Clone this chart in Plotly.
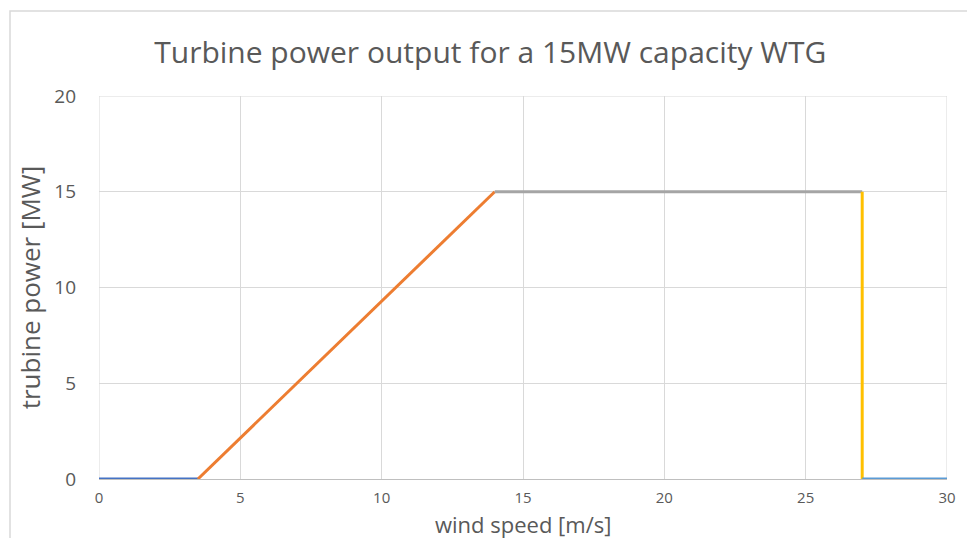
import plotly.graph_objects as go

# Data segments of the power curve
seg_names = ["below cut-in", "ramp", "rated", "cut-out", "above cut-out"]
seg_x = [[0, 3.5], [3.5, 14], [14, 27], [27, 27], [27, 30]]
seg_y = [[0, 0], [0, 15], [15, 15], [15, 0], [0, 0]]
seg_colors = ["#4472C4", "#ED7D31", "#A5A5A5", "#FFC000", "#5B9BD5"]

x_ticks = [0, 5, 10, 15, 20, 25, 30]
y_ticks = [0, 5, 10, 15, 20]

fig = go.Figure()
for name, xs, ys, c in zip(seg_names, seg_x, seg_y, seg_colors):
    fig.add_trace(go.Scatter(x=xs, y=ys, mode="lines", name=name,
                             line=dict(color=c, width=3), showlegend=False))

font_family = "Open Sans, Liberation Sans, sans-serif"
plot_h = 538 - 96 - 59
fig.update_layout(
    width=967, height=538,
    paper_bgcolor="white", plot_bgcolor="white",
    margin=dict(l=99, r=20, t=96, b=59),
    title=dict(text="Turbine power output for a 15MW capacity WTG",
               x=0.507, xref="container", xanchor="center",
               y=1 - 52 / 538, yref="container", yanchor="middle",
               font=dict(family=font_family, size=30, color="#595959")),
    xaxis=dict(range=[0, 30], tickvals=x_ticks, showgrid=True,
               gridcolor="#D9D9D9", gridwidth=1, zeroline=False,
               showline=True, linecolor="#BFBFBF", mirror=False,
               automargin=False,
               ticks="", ticklabelstandoff=5,
               tickfont=dict(family=font_family, size=15, color="#595959")),
    yaxis=dict(range=[0, 20], tickvals=y_ticks, showgrid=True,
               gridcolor="#D9D9D9", gridwidth=1, zeroline=False,
               showline=False, ticks="", ticklabelstandoff=22,
               automargin=False,
               tickfont=dict(family=font_family, size=19, color="#595959"),
               title=dict(text="trubine power [MW]", standoff=6,
                          font=dict(family=font_family, size=26, color="#595959"))),
    annotations=[
        dict(text="wind speed [m/s]", xref="paper", yref="paper",
             x=0.5, y=-59 / plot_h, xanchor="center", yanchor="bottom",
             showarrow=False, yshift=-3,
             font=dict(family=font_family, size=22, color="#595959")),
    ],
    shapes=[
        dict(type="line", xref="x", yref="y", x0=0, x1=0, y0=0, y1=20,
             line=dict(color="#D9D9D9", width=1), layer="below"),
        dict(type="line", xref="x", yref="y", x0=30, x1=30, y0=0, y1=20,
             line=dict(color="#D9D9D9", width=1), layer="below"),
        dict(type="line", xref="x", yref="y", x0=0, x1=30, y0=20, y1=20,
             line=dict(color="#D9D9D9", width=1), layer="below"),
        dict(type="rect", xref="paper", yref="paper",
             x0=-89/848, x1=1.1, y0=-0.2, y1=1 + 85/383,
             line=dict(color="#D9D9D9", width=1.5), layer="below"),
    ],
)

fig.write_html("out.html")
